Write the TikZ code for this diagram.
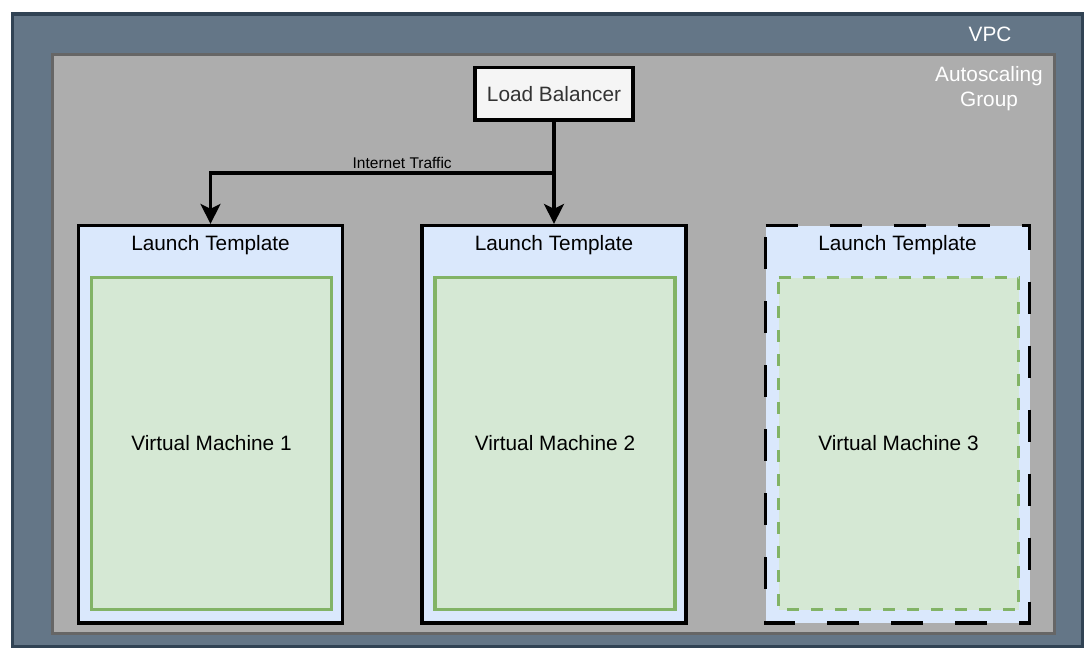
\documentclass[tikz,border=0pt]{standalone}
\usepackage{fontspec}
\setmainfont{Liberation Sans}
\usetikzlibrary{arrows.meta}
\definecolor{vpcfill}{HTML}{647687}
\definecolor{vpcline}{HTML}{314354}
\definecolor{asgfill}{HTML}{ADADAD}
\definecolor{asgline}{HTML}{666666}
\definecolor{lbfill}{HTML}{F5F5F5}
\definecolor{lbtext}{HTML}{333333}
\definecolor{ltfill}{HTML}{DAE8FC}
\definecolor{vmfill}{HTML}{D5E8D4}
\definecolor{vmline}{HTML}{82B366}
\tikzset{
  box/.style={rectangle, inner sep=0pt, line width=3.2pt},
  bigtxt/.style={font=\fontsize{20.8}{24.5}\selectfont, inner sep=0pt},
  smalltxt/.style={font=\fontsize{15.5}{18}\selectfont, inner sep=0pt},
  ltbox/.style={box, draw=black, fill=ltfill, minimum width=264pt, minimum height=397.5pt},
  vmbox/.style={box, draw=vmline, fill=vmfill, minimum width=240pt, minimum height=332pt, bigtxt},
  ltdash/.style={dash pattern=on 32pt off 32pt},
  vmdash/.style={dash pattern=on 12pt off 12pt},
  arr/.style={line width=3.2pt, -{Stealth[length=20pt,width=20pt,inset=5pt]}},
}
\begin{document}
\begin{tikzpicture}[x=1pt,y=-1pt]
\useasboundingbox (0,0) rectangle (1091,656);
% VPC
\node[box, draw=vpcline, fill=vpcfill, minimum width=1070pt, minimum height=632.5pt] (vpc) at (547.5,330.25) {};
\node[bigtxt, text=white] (vpclbl) at (990,34) {VPC};
% Autoscaling group
\node[box, draw=asgline, fill=asgfill, minimum width=1002pt, minimum height=579.5pt] (asg) at (553.25,343.9) {};
\node[bigtxt, text=white, align=center, font=\fontsize{20.8}{25}\selectfont] (asglbl) at (989,89) {Autoscaling\\Group};
% Load balancer
\node[box, draw=black, fill=lbfill, minimum width=158pt, minimum height=52.5pt, bigtxt, text=lbtext] (lb) at (554,93.75) {Load Balancer};
% Launch templates
\node[ltbox] (lt1) at (210.5,424.25) {};
\node[ltbox] (lt2) at (554,424.25) {};
\node[ltbox, draw=none] (lt3) at (897.5,424.25) {};
\draw[black, line width=3.2pt, ltdash] (765.5,225.5) -- (1029.5,225.5) -- (1029.5,623) -- (765.5,623) -- cycle;
\node[bigtxt] (lt1lbl) at (210.5,245.5) {Launch Template};
\node[bigtxt] (lt2lbl) at (554,245.5) {Launch Template};
\node[bigtxt] (lt3lbl) at (897.5,245.5) {Launch Template};
% Virtual machines
\node[vmbox] (vm1) at (211.5,443.5) {Virtual Machine 1};
\node[vmbox] (vm2) at (555,443.5) {Virtual Machine 2};
\node[vmbox, draw=none] (vm3) at (898.5,443.5) {Virtual Machine 3};
\draw[vmline, line width=3.5pt, vmdash] (778.5,277.5) -- (1018.5,277.5) -- (1018.5,609.5) -- (778.5,609.5) -- cycle;
% Connectors
\coordinate (split) at (554,173);
\draw[arr] (lb.south) -- (lt2.north);
\draw[arr] (split) -| node[pos=0.221, anchor=south, yshift=3pt, smalltxt] (itlbl) {Internet Traffic} (lt1.north);
\end{tikzpicture}
\end{document}
